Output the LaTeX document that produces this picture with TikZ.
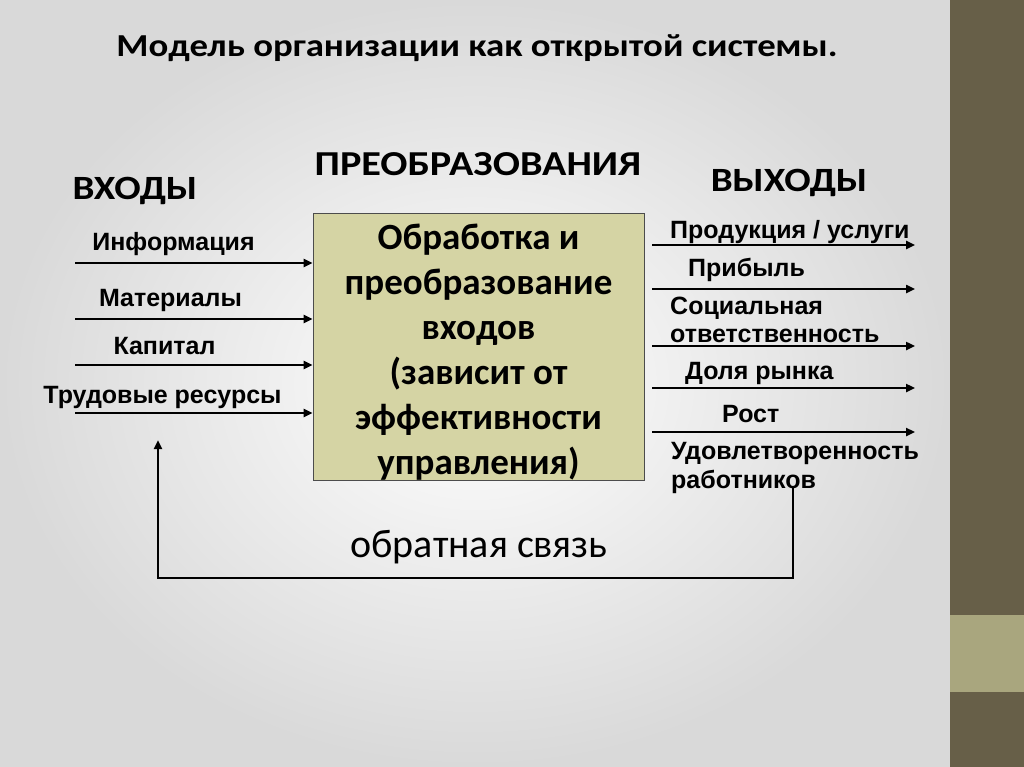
\documentclass[tikz,border=0pt]{standalone}
\usepackage{fontspec}
\setmainfont{Liberation Sans}
\newfontfamily\calibri{Carlito}
\newfontfamily\calibriwide[FakeStretch=1.15]{Carlito}
\usetikzlibrary{arrows.meta,positioning}
\definecolor{stripbrown}{HTML}{675F48}
\definecolor{stripkhaki}{HTML}{A9A67E}
\definecolor{boxfill}{HTML}{D5D4A4}
\definecolor{slidegray}{HTML}{D9D9D9}
\tikzset{
    heading/.style={anchor=base, inner sep=0, font=\calibriwide\bfseries\fontsize{34}{38}\selectfont},
    flowtext/.style={anchor=base, inner sep=0, font=\bfseries\fontsize{25}{28}\selectfont},
    flow/.style={-{Triangle[length=9pt,width=8pt]}, line width=2.6pt},
    process/.style={rectangle, draw=black!70, line width=0.8pt, fill=boxfill, minimum width=331pt, minimum height=267pt, inner sep=0},
    proctext/.style={align=center, inner sep=0, font=\calibri\bfseries\fontsize{37}{45}\selectfont},
}
\begin{document}
\begin{tikzpicture}[x=1pt, y=-1pt]
    % slide background
    \useasboundingbox (0,0) rectangle (1024,767);
    \shade[inner color=white, outer color=slidegray] (0,0) rectangle (950,767);
    \fill[stripbrown] (950,0) rectangle (1024,767);
    \fill[stripkhaki] (950,615) rectangle (1024,692);

    \node[heading, font=\calibriwide\bfseries\fontsize{32}{36}\selectfont] (title) at (477,57) {Модель организации как открытой системы.};
    \node[heading, font=\calibriwide\bfseries\fontsize{35}{38}\selectfont] (transf) at (478,176) {ПРЕОБРАЗОВАНИЯ};
    \node[heading] (inputs) at (135,200) {ВХОДЫ};
    \node[heading] (outputs) at (789,192) {ВЫХОДЫ};

    \node[process] (proc) at (478.5,346.5) {};
    \node[proctext] (procText) at ([yshift=-6pt]proc.center) {Обработка и\\преобразование\\входов\\(зависит от\\эффективности\\управления)};

    % inputs
    \node[flowtext] (lInfo) at (173.5,250) {Информация};
    \node[flowtext] (lMat) at (170.5,306) {Материалы};
    \node[flowtext] (lCap) at (164.5,354) {Капитал};
    \node[flowtext] (lLab) at (162.5,403) {Трудовые ресурсы};
    \coordinate (iInfo) at (75,263);
    \coordinate (iMat) at (75,319);
    \coordinate (iCap) at (75,365);
    \coordinate (iLab) at (75,413);
    \draw[flow] (iInfo) -- (iInfo -| proc.west);
    \draw[flow] (iMat) -- (iMat -| proc.west);
    \draw[flow] (iCap) -- (iCap -| proc.west);
    \draw[flow] (iLab) -- (iLab -| proc.west);

    % outputs
    \node[flowtext, anchor=base west] (lProd) at (670,239) {Продукция / услуги};
    \node[flowtext, anchor=base west] (lProf) at (688,276) {Прибыль};
    \node[flowtext, anchor=base west] (lSoc) at (670,314) {Социальная};
    \node[flowtext, anchor=base west] (lResp) at (670,342) {ответственность};
    \node[flowtext, anchor=base west] (lShare) at (685,379) {Доля рынка};
    \node[flowtext, anchor=base west] (lGrow) at (722,422) {Рост};
    \node[flowtext, anchor=base west] (lSat) at (671,459) {Удовлетворенность};
    \node[flowtext, anchor=base west] (lWork) at (671,488) {работников};
    \coordinate (oEnd) at (915,0);
    \coordinate (oProd) at (652,245);
    \coordinate (oProf) at (652,289);
    \coordinate (oResp) at (652,346);
    \coordinate (oShare) at (652,388);
    \coordinate (oGrow) at (652,432);
    \draw[flow] (oProd) -- (oProd -| oEnd);
    \draw[flow] (oProf) -- (oProf -| oEnd);
    \draw[flow] (oResp) -- (oResp -| oEnd);
    \draw[flow] (oShare) -- (oShare -| oEnd);
    \draw[flow] (oGrow) -- (oGrow -| oEnd);

    % feedback loop
    \node[anchor=base, inner sep=0, font=\calibri\fontsize{40}{44}\selectfont] (fb) at (479,557) {обратная связь};
    \coordinate (fbStart) at (793,488);
    \coordinate (fbEnd) at (158,440);
    \draw[flow] (fbStart) -- ++(0,90) -| (fbEnd);
\end{tikzpicture}
\end{document}
